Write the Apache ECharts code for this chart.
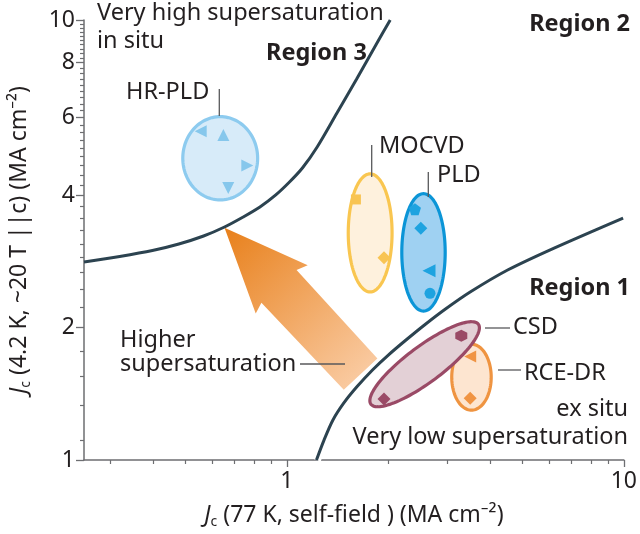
<!DOCTYPE html>
<html><head><meta charset="utf-8">
<script src="https://cdn.jsdelivr.net/npm/echarts@6/dist/echarts.min.js"></script>
<style>html,body{margin:0;padding:0;background:#fff}#c{width:640px;height:534px}</style>
</head><body><div id="c"></div>
<script>
// ---- axis ticks ----
const xMajorTicks = [1, 10];
const xMinorTicks = [0.3, 0.4, 0.5, 0.6, 0.7, 0.8, 0.9, 2, 3, 4, 5, 6, 7, 8, 9];
const yMajorTicks = [1, 2, 4, 6, 8, 10];
const yMinorTicks = [1.11, 1.33, 1.55, 1.77, 2.22, 2.44, 2.67, 2.89, 3.1, 3.33, 3.55, 3.77,
  4.22, 4.44, 4.67, 4.89, 5.11, 5.33, 5.55, 5.77, 6.22, 6.44, 6.67, 6.89, 7.11, 7.33, 7.55, 7.77,
  8.2, 8.4, 8.6, 8.8, 9.0, 9.2, 9.4, 9.6, 9.8];

// ---- region boundaries ----
const region3Boundary = [[0.25, 2.818], [0.319, 2.901], [0.399, 2.993], [0.478, 3.097], [0.566, 3.229],
  [0.653, 3.385], [0.742, 3.567], [0.832, 3.758], [0.927, 4.003], [1.018, 4.283], [1.112, 4.609],
  [1.230, 5.145], [1.408, 6.146], [1.611, 7.341], [1.844, 8.819], [2.026, 10]];
const region1Boundary = [[1.224, 1.0], [1.289, 1.110], [1.370, 1.233], [1.476, 1.348], [1.611, 1.465],
  [1.795, 1.602], [2.000, 1.732], [2.257, 1.874], [2.583, 2.038], [2.956, 2.204], [3.499, 2.409],
  [4.52, 2.703], [6.21, 3.032], [9.95, 3.548]];

// ---- method ellipses: [xMin, xMax, yMin, yMax] ----
const methods = ['HR-PLD', 'MOCVD', 'PLD', 'RCE-DR'];
const ellipseBounds = [
  [0.491, 0.819, 3.90, 6.03],
  [1.521, 2.052, 2.41, 4.47],
  [2.193, 2.95, 2.18, 4.03],
  [3.085, 4.04, 1.298, 1.833]
];
// CSD tilted ellipse: end points of major axis [x1, y1, x2, y2]
const csdAxis = [1.776, 1.339, 3.70, 2.035];

// ---- data points per method ----
const hrpldPoints = [[0.555, 5.59], [0.648, 5.48], [0.763, 4.67], [0.670, 4.15]];
const mocvdPoints = [[1.603, 3.91], [1.942, 2.88]];
const pldPoints = [[2.399, 3.715], [2.497, 3.363], [2.641, 2.693], [2.659, 2.392]];
const csdPoints = [[3.293, 1.917], [1.942, 1.376]];
const rcePoints = [[3.499, 1.718], [3.499, 1.381]];

// ---- supersaturation arrow: [tipX, tipY, tailX, tailY] ----
const arrowData = [[0.653, 3.37, 1.655, 1.567]];

const FONT = 'Noto Sans';
const TXT = '#231f20';
const AX = '#6d6e71';
const FS = 23.5;

const pent = 'path://M0,-10 L9.51,-3.09 L5.88,8.09 L-5.88,8.09 L-9.51,-3.09 Z';
const hex = 'path://M8.66,-5 L8.66,5 L0,10 L-8.66,5 L-8.66,-5 L0,-10 Z';

function pts(arr, shapes, rots, size) {
  return arr.map((p, i) => ({ value: p, symbol: shapes[i], symbolRotate: rots[i], symbolSize: size[i] }));
}

const ellipseStyle = [
  { fill: '#d7ebf9', stroke: '#8dcbef' },
  { fill: '#fef1dd', stroke: '#f9c650' },
  { fill: '#9fd1f2', stroke: '#0b95d7' },
  { fill: '#fde5d0', stroke: '#ef9441' }
];

const chart = echarts.init(document.getElementById('c'), null, { renderer: 'canvas' });

const nameRich = {
  i: { fontStyle: 'italic', fontFamily: FONT, fontSize: 23, color: TXT },
  sub: { fontFamily: FONT, fontSize: 14, color: TXT, padding: [13, 0, 0, 0] },
  n: { fontFamily: FONT, fontSize: 23, color: TXT }
};

chart.setOption({
  animation: false,
  backgroundColor: '#fff',
  grid: { left: 84, right: 9.3, top: 20, bottom: 74, containLabel: false },
  xAxis: [{
    type: 'log', logBase: 10, min: 0.25, max: 10,
    splitLine: { show: false },
    axisLine: { show: true, onZero: false, lineStyle: { color: AX, width: 1.5 } },
    axisTick: { show: true, length: 7, customValues: xMajorTicks, lineStyle: { color: AX, width: 1.3 } },
    axisLabel: { customValues: xMajorTicks, fontFamily: FONT, fontSize: 23, color: TXT, margin: 10 },
    name: '{i|J}{sub|c}{n| (77 K, self-field ) (MA cm⁻²)}',
    nameLocation: 'middle', nameGap: 42,
    nameTextStyle: { rich: nameRich }
  }, {
    type: 'log', logBase: 10, min: 0.25, max: 10, position: 'bottom',
    splitLine: { show: false },
    axisLine: { show: false },
    axisTick: { show: true, length: 4, customValues: xMinorTicks, lineStyle: { color: AX, width: 1.2 } },
    axisLabel: { show: false }
  }],
  yAxis: [{
    type: 'log', logBase: 10, min: 1, max: 10,
    splitLine: { show: false },
    axisLine: { show: true, onZero: false, lineStyle: { color: AX, width: 1.5 } },
    axisTick: { show: true, length: 8, customValues: yMajorTicks, lineStyle: { color: AX, width: 1.3 } },
    axisLabel: { customValues: yMajorTicks, fontFamily: FONT, fontSize: 23, color: TXT, margin: 9 },
    name: '{i|J}{sub|c}{n| (4.2 K, ~20 T ||c) (MA cm⁻²)}',
    nameLocation: 'middle', nameGap: 51, nameRotate: 90,
    nameTextStyle: { rich: nameRich }
  }, {
    type: 'log', logBase: 10, min: 1, max: 10, position: 'left',
    splitLine: { show: false },
    axisLine: { show: false },
    axisTick: { show: true, length: 4, customValues: yMinorTicks, lineStyle: { color: AX, width: 1.2 } },
    axisLabel: { show: false }
  }],
  series: [
    {
      type: 'custom', name: 'arrow', z: 1,
      data: arrowData,
      renderItem: function (params, api) {
        const tip = api.coord([api.value(0), api.value(1)]);
        const tail = api.coord([api.value(2), api.value(3)]);
        const dx = tip[0] - tail[0], dy = tip[1] - tail[1];
        const L = Math.sqrt(dx * dx + dy * dy);
        const ux = dx / L, uy = dy / L;
        const nx = -uy, ny = ux;
        const P = (back, lat) => [tip[0] - ux * back + nx * lat, tip[1] - uy * back + ny * lat];
        const poly = [P(0, 0), P(84, 35.5), P(80, 24), P(L, 23), P(L, -23), P(80, -24), P(84, -35.5)];
        return {
          type: 'polygon', shape: { points: poly },
          style: {
            fill: new echarts.graphic.LinearGradient(tip[0], tip[1], tail[0], tail[1], [
              { offset: 0, color: '#e8801b' }, { offset: 1, color: '#f9c99f' }
            ], true)
          }
        };
      }
    },
    {
      type: 'line', name: 'r1halo', data: region1Boundary, smooth: 0.3, symbol: 'none', z: 2,
      lineStyle: { color: '#ffffff', width: 9 }, silent: true
    },
    {
      type: 'line', name: 'Region 3 boundary', data: region3Boundary, smooth: 0.3, symbol: 'none', z: 3,
      lineStyle: { color: '#2c4350', width: 3 }
    },
    {
      type: 'line', name: 'Region 1 boundary', data: region1Boundary, smooth: 0.3, symbol: 'none', z: 3,
      lineStyle: { color: '#2c4350', width: 3 }
    },
    {
      type: 'custom', name: 'ellipses', z: 4,
      data: ellipseBounds,
      renderItem: function (params, api) {
        const a = api.coord([api.value(0), api.value(3)]);
        const b = api.coord([api.value(1), api.value(2)]);
        const cx = (a[0] + b[0]) / 2, cy = (a[1] + b[1]) / 2;
        const rx = Math.abs(b[0] - a[0]) / 2, ry = Math.abs(b[1] - a[1]) / 2;
        const s = ellipseStyle[params.dataIndex];
        const poly = [];
        for (let k = 0; k < 120; k++) {
          const t = k / 120 * Math.PI * 2;
          poly.push([cx + rx * Math.cos(t), cy + ry * Math.sin(t)]);
        }
        return { type: 'polygon', shape: { points: poly }, style: { fill: s.fill, stroke: s.stroke, lineWidth: 3.2 } };
      }
    },
    {
      type: 'custom', name: 'CSD ellipse', z: 4,
      data: [csdAxis],
      renderItem: function (params, api) {
        const p1 = api.coord([api.value(0), api.value(1)]);
        const p2 = api.coord([api.value(2), api.value(3)]);
        const cx = (p1[0] + p2[0]) / 2, cy = (p1[1] + p2[1]) / 2;
        const dx = p2[0] - p1[0], dy = p2[1] - p1[1];
        const a = Math.sqrt(dx * dx + dy * dy) / 2, bb = 18;
        const ux = dx / (2 * a), uy = dy / (2 * a);
        const poly = [];
        for (let k = 0; k < 120; k++) {
          const t = k / 120 * Math.PI * 2;
          const u = a * Math.cos(t), v = bb * Math.sin(t);
          poly.push([cx + ux * u - uy * v, cy + uy * u + ux * v]);
        }
        return { type: 'polygon', shape: { points: poly }, style: { fill: '#e3d0d6', stroke: '#9a4a66', lineWidth: 3.2 } };
      }
    },
    {
      type: 'scatter', name: 'HR-PLD', z: 5, itemStyle: { color: '#86c7ec', opacity: 1 },
      data: pts(hrpldPoints, ['triangle', 'triangle', 'triangle', 'triangle'], [90, 0, -90, 180], [12, 12, 12, 12])
    },
    {
      type: 'scatter', name: 'MOCVD', z: 5, itemStyle: { color: '#f8c453', opacity: 1 },
      data: pts(mocvdPoints, ['rect', 'diamond'], [0, 0], [10, 13])
    },
    {
      type: 'scatter', name: 'PLD', z: 5, itemStyle: { color: '#1ea3e0', opacity: 1 },
      data: pts(pldPoints, [pent, 'diamond', 'triangle', 'circle'], [0, 0, 90, 0], [12, 13, 13, 11])
    },
    {
      type: 'scatter', name: 'CSD', z: 5, itemStyle: { color: '#9a4a66', opacity: 1 },
      data: pts(csdPoints, [hex, 'diamond'], [0, 0], [12, 13])
    },
    {
      type: 'scatter', name: 'RCE-DR', z: 5, itemStyle: { color: '#f09443', opacity: 1 },
      data: pts(rcePoints, ['triangle', 'diamond'], [90, 0], [12, 13])
    }
  ],
  graphic: [
    ...[
      ['Very high supersaturation', 97, 13, 'left', 'normal'],
      ['in situ', 97, 41, 'left', 'normal'],
      ['Region 3', 266, 53, 'left', 'bold'],
      ['Region 2', 630, 24, 'right', 'bold'],
      ['Region 1', 630, 288, 'right', 'bold'],
      ['HR-PLD', 126, 92, 'left', 'normal'],
      ['MOCVD', 379, 146, 'left', 'normal'],
      ['PLD', 437, 175, 'left', 'normal'],
      ['CSD', 513, 327, 'left', 'normal'],
      ['RCE-DR', 524, 373, 'left', 'normal'],
      ['ex situ', 628, 409, 'right', 'normal'],
      ['Very low supersaturation', 628, 437, 'right', 'normal'],
      ['Higher', 120, 340, 'left', 'normal'],
      ['supersaturation', 120, 364, 'left', 'normal']
    ].map(t => ({
      type: 'text', x: t[1], y: t[2], z: 10,
      style: { text: t[0], fontFamily: FONT, fontSize: FS, fontWeight: t[4], fill: TXT, align: t[3], verticalAlign: 'middle' }
    })),
    ...[
      [219.3, 89, 219.3, 116],
      [371.7, 145, 371.7, 177],
      [428.3, 172, 428.3, 197],
      [485, 328, 510, 328],
      [498, 370, 521, 370],
      [300, 364, 345, 364]
    ].map(l => ({
      type: 'line', z: 10, shape: { x1: l[0], y1: l[1], x2: l[2], y2: l[3] },
      style: { stroke: '#58595b', lineWidth: 1.3 }
    }))
  ]
});
</script>
</body></html>
